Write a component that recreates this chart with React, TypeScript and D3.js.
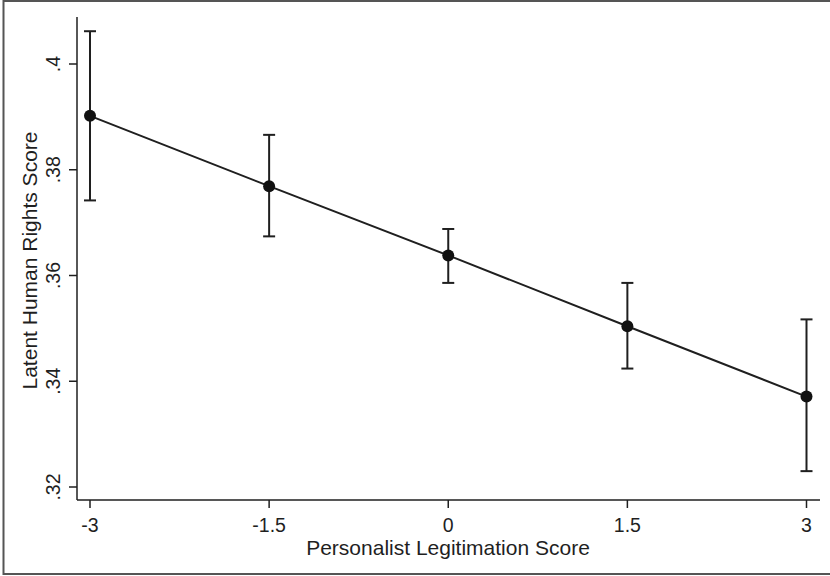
import { useEffect, useRef } from 'react';
import * as d3 from 'd3';

const legitimation = [-3, -1.5, 0, 1.5, 3];
const estimate = [0.3902, 0.3769, 0.3638, 0.3504, 0.3371];
const upperCI = [0.4062, 0.3866, 0.3688, 0.3586, 0.3517];
const lowerCI = [0.3742, 0.3674, 0.3586, 0.3424, 0.323];
const xTicks = [-3, -1.5, 0, 1.5, 3];
const xTickLabels = ['-3', '-1.5', '0', '1.5', '3'];
const yTicks = [0.32, 0.34, 0.36, 0.38, 0.4];
const yTickLabels = ['.32', '.34', '.36', '.38', '.4'];

const W = 830;
const H = 576;
const FONT = '"Liberation Sans", Arial, Helvetica, sans-serif';
const INK = '#1f1f1f';

export default function App() {
  const svgRef = useRef<SVGSVGElement>(null);

  useEffect(() => {
    if (!svgRef.current) return;
    const svg = d3.select(svgRef.current);
    svg.selectAll('*').remove();

    // plot region edges
    const left = 77, right = 820, top = 17, bottom = 500;

    const x = d3.scaleLinear().domain([-3, 3]).range([90, 806.5]);
    const y = d3.scaleLinear().domain([0.32, 0.4]).range([487, 64]);

    // outer frame
    svg.append('rect')
      .attr('x', 3.5).attr('y', 1).attr('width', W + 10).attr('height', H - 3)
      .attr('fill', 'white').attr('stroke', '#555').attr('stroke-width', 2);

    // axes lines
    svg.append('line')
      .attr('x1', left).attr('x2', left).attr('y1', top).attr('y2', bottom)
      .attr('stroke', INK).attr('stroke-width', 1.5);
    svg.append('line')
      .attr('x1', left).attr('x2', right).attr('y1', bottom).attr('y2', bottom)
      .attr('stroke', INK).attr('stroke-width', 1.5);

    // x ticks
    const xt = svg.append('g');
    xTicks.forEach((t, i) => {
      xt.append('line')
        .attr('x1', x(t)).attr('x2', x(t)).attr('y1', bottom).attr('y2', bottom + 8)
        .attr('stroke', INK).attr('stroke-width', 1.5);
      xt.append('text')
        .attr('x', x(t)).attr('y', 532)
        .attr('text-anchor', 'middle')
        .attr('font-family', FONT).attr('font-size', 19.5).attr('fill', INK)
        .text(xTickLabels[i]);
    });

    // y ticks
    const yt = svg.append('g');
    yTicks.forEach((t, i) => {
      yt.append('line')
        .attr('x1', left - 8).attr('x2', left).attr('y1', y(t)).attr('y2', y(t))
        .attr('stroke', INK).attr('stroke-width', 1.5);
      yt.append('text')
        .attr('transform', `translate(60,${y(t)}) rotate(-90)`)
        .attr('text-anchor', 'middle')
        .attr('font-family', FONT).attr('font-size', 19.5).attr('fill', INK)
        .text(yTickLabels[i]);
    });

    // axis titles
    svg.append('text')
      .attr('x', 448).attr('y', 555)
      .attr('text-anchor', 'middle')
      .attr('font-family', FONT).attr('font-size', 21).attr('fill', INK)
      .text('Personalist Legitimation Score');
    svg.append('text')
      .attr('transform', `translate(37,${(top + bottom) / 2 + 2}) rotate(-90)`)
      .attr('text-anchor', 'middle')
      .attr('font-family', FONT).attr('font-size', 21).attr('fill', INK)
      .text('Latent Human Rights Score');

    // error bars
    const eb = svg.append('g').attr('stroke', INK).attr('stroke-width', 2);
    legitimation.forEach((v, i) => {
      eb.append('line')
        .attr('x1', x(v)).attr('x2', x(v))
        .attr('y1', y(upperCI[i])).attr('y2', y(lowerCI[i]));
      [upperCI[i], lowerCI[i]].forEach(c => {
        eb.append('line')
          .attr('x1', x(v) - 6).attr('x2', x(v) + 6)
          .attr('y1', y(c)).attr('y2', y(c));
      });
    });

    // fitted line
    const line = d3.line<number>()
      .x((_, i) => x(legitimation[i]))
      .y(d => y(d));
    svg.append('path')
      .attr('d', line(estimate))
      .attr('fill', 'none').attr('stroke', INK).attr('stroke-width', 2);

    // markers
    svg.append('g').selectAll('circle')
      .data(estimate)
      .enter()
      .append('circle')
      .attr('cx', (_, i) => x(legitimation[i]))
      .attr('cy', d => y(d))
      .attr('r', 6)
      .attr('fill', '#111');
  }, []);

  return (
    <svg
      ref={svgRef}
      width={W}
      height={H}
      style={{ position: 'absolute', left: 0, top: 0, background: 'white' }}
    />
  );
}
